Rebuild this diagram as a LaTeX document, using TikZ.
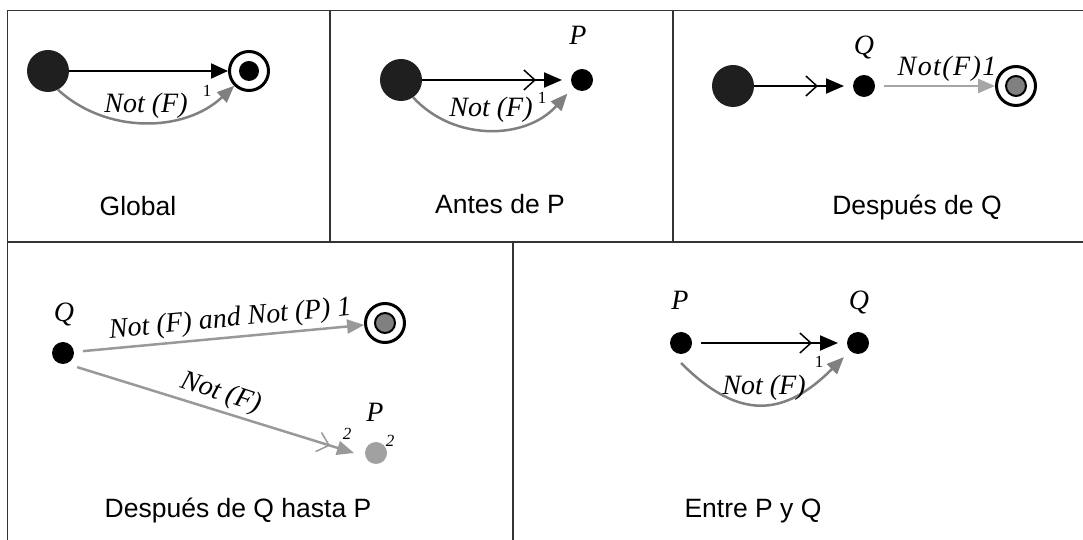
\documentclass[tikz,border=0pt]{standalone}
\usepackage{fontspec}
\setmainfont{Liberation Serif}
\setsansfont{Liberation Sans}
\usetikzlibrary{arrows.meta}

\begin{document}
\begin{tikzpicture}[x=1pt,y=1pt,
	inicio/.style={circle,fill=black!88,minimum size=42pt,inner sep=0pt},
	estado/.style={circle,fill=black,minimum size=22pt,inner sep=0pt,outer sep=9pt},
	final/.style={circle,draw=black,line width=3pt,fill=white,minimum size=39pt,inner sep=0pt},
	nucleo/.style={circle,fill=black,minimum size=20pt,inner sep=0pt},
	nucleogris/.style={circle,draw=black,line width=2pt,fill=black!50,minimum size=20pt,inner sep=0pt},
	flecha/.style={line width=2pt,-{Triangle[length=17pt,width=15pt]}},
	flechados/.style={line width=2pt,-{Straight Barb[length=11pt,width=20pt,line width=1.5pt,sep=8pt] Triangle[length=18pt,width=15pt]}},
	gris/.style={color=black!50,line width=2.5pt,-{Triangle[length=17pt,width=14pt]}},
	grisdos/.style={color=black!40,line width=2.5pt,-{Straight Barb[length=11pt,width=20pt,line width=1.5pt,sep=8pt] Triangle[length=17pt,width=14pt]}},
	etiq/.style={font=\fontsize{28}{31}\selectfont\itshape,inner sep=0pt,anchor=base},
	peq/.style={font=\fontsize{17}{20}\selectfont,inner sep=0pt,anchor=base},
	titulo/.style={font=\sffamily\fontsize{26.5}{30}\selectfont,inner sep=0pt,anchor=base},
	marco/.style={draw=black!80,line width=1.5pt}]
	\useasboundingbox (0,0) rectangle (1083,540);
	% cuadricula
	\draw[marco] (7.5,0)--(7.5,529.5)--(1083,529.5);
	\draw[marco] (7.5,298)--(1083,298);
	\draw[marco] (330,298)--(330,529.5) (673,298)--(673,529.5) (513,0)--(513,298);
	% Global
	\node[inicio] (s1) at (48,469) {};
	\node[final] (f1) at (249,469) {};
	\node[nucleo] (f1i) at (f1) {};
	\draw[flecha] (s1)--(f1);
	\draw[gris] (s1.-62) .. controls (106,406) and (184,407) .. (f1.-135);
	\node[etiq] (n1) at (146,427) {Not (F)};
	\node[peq] (u1) at (207,443) {1};
	\node[titulo] (t1) at (138,324) {Global};
	% Antes de P
	\node[inicio] (s2) at (401,460) {};
	\node[estado] (p2) at (582,460) {};
	\node[etiq] (lp2) at (578,495) {P};
	\draw[flechados] (s2)--(p2);
	\draw[gris] (s2.-55) .. controls (454,398) and (526,400) .. (p2.-137);
	\node[etiq] (n2) at (491,423) {Not (F)};
	\node[peq] (u2) at (542,436) {1};
	\node[titulo] (t2) at (500,326) {Antes de P};
	% Despues de Q
	\node[inicio] (s3) at (733,454) {};
	\node[estado] (q3) at (864,454) {};
	\node[etiq] (lq3) at (864,485) {Q};
	\node[final] (f3) at (1016,454) {};
	\node[nucleogris] (f3i) at (f3) {};
	\draw[flechados] (s3)--(q3);
	\draw[gris,color=black!35] (q3)--(f3);
	\node[etiq,font=\fontsize{28}{31}\selectfont\itshape\addfontfeature{LetterSpace=5}] (n3) at (947,464) {Not(F)1};
	\node[titulo] (t3) at (917,325) {Después de Q};
	% Despues de Q hasta P
	\node[estado] (q4) at (63,187) {};
	\node[etiq] (lq4) at (64,218) {Q};
	\node[final] (f4) at (385,217) {};
	\node[nucleogris] (f4i) at (f4) {};
	\node[estado,fill=black!37,outer sep=11pt] (p4) at (376,87) {};
	\node[etiq] (lp4) at (375,118) {P};
	\draw[gris,color=black!40] (q4)--(f4);
	\draw[grisdos] (q4.-45)--(p4.180);
	\node[etiq,rotate=5.5] (n4) at (231,213.5) {Not (F) and Not (P) 1};
	\node[etiq,rotate=-18] (m4) at (219,140) {Not (F)};
	\node[peq,font=\fontsize{17}{20}\selectfont\itshape] (d4) at (347,100) {2};
	\node[peq,font=\fontsize{17}{20}\selectfont\itshape] (e4) at (390,93) {2};
	\node[titulo] (t4) at (238,22) {Después de Q hasta P};
	% Entre P y Q
	\node[estado] (p5) at (681,197) {};
	\node[estado] (q5) at (858,197) {};
	\node[etiq] (lp5) at (680,230) {P};
	\node[etiq] (lq5) at (859,230) {Q};
	\draw[flechados] (p5)--(q5);
	\draw[gris] (p5.-90) .. controls (740,118) and (785,124) .. (q5.-135);
	\node[peq] (u5) at (819,172) {1};
	\node[etiq] (n5) at (764,145) {Not (F)};
	\node[titulo] (t5) at (753,22) {Entre P y Q};
\end{tikzpicture}
\end{document}
